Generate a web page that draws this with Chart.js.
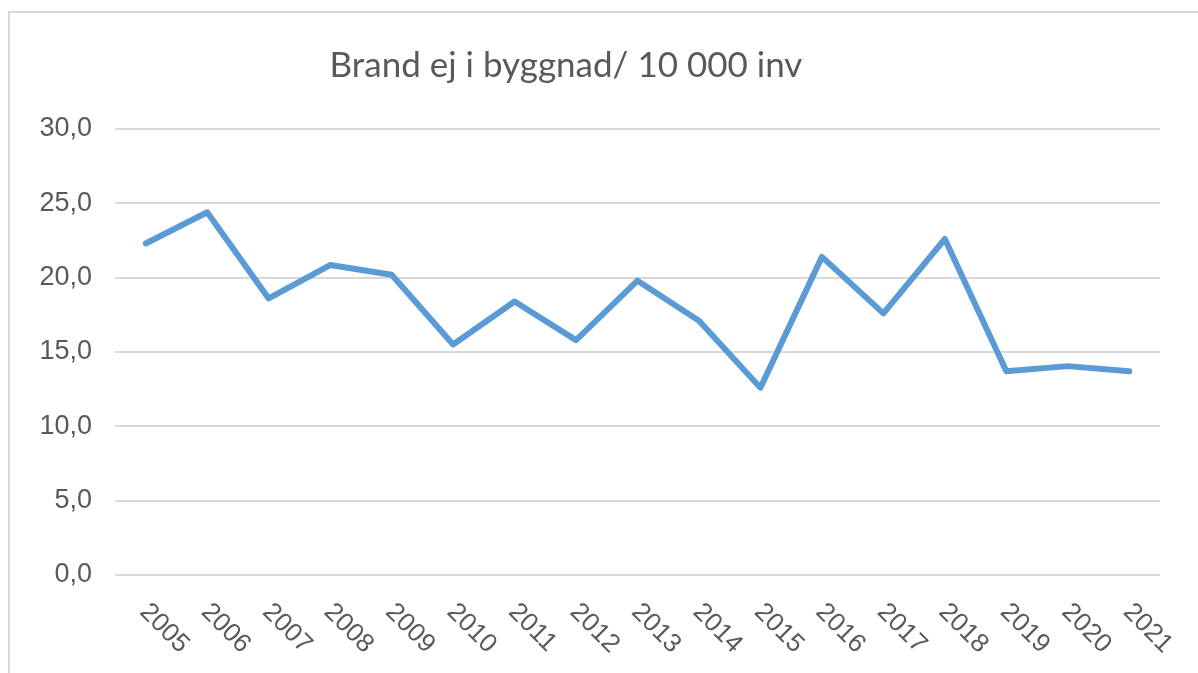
<!DOCTYPE html>
<html>
<head>
<meta charset="utf-8">
<script src="https://cdn.jsdelivr.net/npm/chart.js@4"></script>
<style>
  html, body { margin: 0; padding: 0; background: #fff; }
  #wrap { position: relative; width: 1198px; height: 673px; }
</style>
</head>
<body>
<div id="wrap"><canvas id="chart"></canvas></div>
<script>
var titel = 'Brand ej i byggnad/ 10 000 inv';
var ar = ['2005', '2006', '2007', '2008', '2009', '2010', '2011', '2012', '2013',
          '2014', '2015', '2016', '2017', '2018', '2019', '2020', '2021'];
var brander = [22.3, 24.4, 18.6, 20.85, 20.2, 15.5, 18.4, 15.8, 19.8,
               17.1, 12.6, 21.4, 17.6, 22.6, 13.7, 14.05, 13.7];
var yTicks = [0, 5, 10, 15, 20, 25, 30];

var textFarg = '#595959';

// ram runt diagrammet + titel
var ramPlugin = {
    id: 'ram',
    beforeDraw: function(chart) {
        var ctx = chart.ctx;
        ctx.save();
        ctx.strokeStyle = '#d9d9d9';
        ctx.lineWidth = 2;
        ctx.strokeRect(9, 12, chart.width + 20, chart.height + 20);
        ctx.restore();
    },
    afterDraw: function(chart) {
        var ctx = chart.ctx;
        ctx.save();
        ctx.fillStyle = textFarg;
        ctx.font = '35px Lato';
        ctx.textAlign = 'center';
        ctx.textBaseline = 'alphabetic';
        ctx.fillText(titel, 566, 77);
        ctx.restore();
    }
};

// årtal lutade nedåt åt höger, som i Excel
var arPlugin = {
    id: 'arEtiketter',
    afterDraw: function(chart) {
        var ctx = chart.ctx;
        var x = chart.scales.x;
        ctx.save();
        ctx.fillStyle = textFarg;
        ctx.font = '26px "Liberation Sans"';
        ctx.textAlign = 'left';
        ctx.textBaseline = 'middle';
        ar.forEach(function(lbl, i) {
            var px = x.getPixelForTick(i);
            ctx.save();
            ctx.translate(px - 2, x.top + 33);
            ctx.rotate(Math.PI / 4);
            ctx.fillText(lbl, 0, 0);
            ctx.restore();
        });
        ctx.restore();
    }
};

new Chart(document.getElementById('chart'), {
    type: 'line',
    data: {
        labels: ar,
        datasets: [{
            data: brander,
            borderColor: '#5b9bd5',
            borderWidth: 6,
            borderCapStyle: 'round',
            borderJoinStyle: 'round',
            pointRadius: 0,
            tension: 0,
            fill: false
        }]
    },
    options: {
        responsive: true,
        maintainAspectRatio: false,
        animation: false,
        layout: { padding: { top: 129, right: 38, left: 0, bottom: 0 } },
        plugins: {
            legend: { display: false },
            title: { display: false },
            tooltip: { enabled: false }
        },
        scales: {
            x: {
                offset: true,
                grid: { display: false },
                border: { display: false },
                ticks: { display: false },
                afterFit: function(s) { s.height = 98; }
            },
            y: {
                min: 0,
                max: 30,
                afterBuildTicks: function(s) {
                    s.ticks = yTicks.map(function(v) { return { value: v }; });
                },
                grid: { color: '#d9d9d9', lineWidth: 2, drawTicks: false },
                border: { display: false },
                ticks: {
                    padding: 23,
                    color: textFarg,
                    font: { family: '"Liberation Sans"', size: 27 },
                    callback: function(v) { return v.toFixed(1).replace('.', ','); }
                },
                afterFit: function(s) { s.width = 115; }
            }
        }
    },
    plugins: [ramPlugin, arPlugin]
});
</script>
</body>
</html>
